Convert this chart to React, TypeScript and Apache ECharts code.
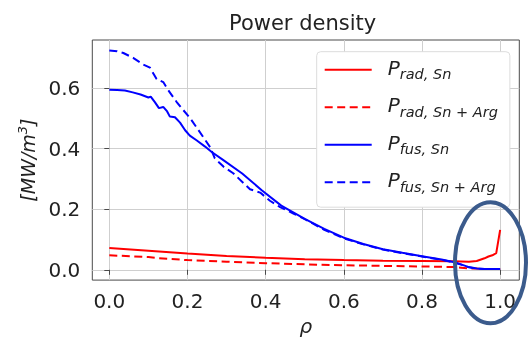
import React, { useEffect, useRef } from "react";
import * as echarts from "echarts";

// ---- data ----
const xTicks = [0, 0.2, 0.4, 0.6, 0.8, 1.0];
const yTicks = [0, 0.2, 0.4, 0.6];

const radSnRho = [0, 0.1, 0.2, 0.3, 0.4, 0.5, 0.6, 0.7, 0.8, 0.88, 0.92, 0.94, 0.96, 0.97, 0.98, 0.99, 1.0];
const radSnVal = [0.072, 0.063, 0.054, 0.046, 0.04, 0.035, 0.032, 0.03, 0.029, 0.028, 0.027, 0.029, 0.038, 0.044, 0.048, 0.055, 0.132];

const radArgRho = [0, 0.1, 0.12, 0.2, 0.3, 0.4, 0.5, 0.6, 0.7, 0.8, 0.88, 0.9, 0.92, 0.94, 0.96, 0.98, 1.0];
const radArgVal = [0.048, 0.042, 0.039, 0.032, 0.027, 0.022, 0.018, 0.015, 0.013, 0.011, 0.009, 0.007, 0.005, 0.004, 0.003, 0.003, 0.003];

const fusSnRho = [0, 0.02, 0.04, 0.06, 0.08, 0.1, 0.106, 0.117, 0.127, 0.138, 0.148, 0.155, 0.168, 0.181, 0.194, 0.206, 0.224, 0.245, 0.262, 0.29, 0.34, 0.39, 0.44, 0.5, 0.55, 0.6, 0.65, 0.7, 0.75, 0.8, 0.85, 0.88, 0.9, 0.92, 0.94, 0.96, 0.98, 1.0];
const fusSnVal = [0.595, 0.594, 0.592, 0.586, 0.579, 0.569, 0.572, 0.553, 0.534, 0.538, 0.523, 0.506, 0.504, 0.486, 0.461, 0.443, 0.427, 0.407, 0.389, 0.364, 0.318, 0.263, 0.212, 0.168, 0.135, 0.106, 0.085, 0.068, 0.056, 0.045, 0.034, 0.026, 0.018, 0.009, 0.004, 0.003, 0.003, 0.003];

const fusArgRho = [0, 0.02, 0.036, 0.061, 0.087, 0.104, 0.121, 0.138, 0.151, 0.172, 0.189, 0.206, 0.224, 0.241, 0.258, 0.27, 0.292, 0.317, 0.343, 0.36, 0.386, 0.411, 0.437, 0.471, 0.505, 0.55, 0.6, 0.65, 0.7, 0.75, 0.8, 0.85, 0.88, 0.9, 0.92, 0.94, 0.96, 0.98, 1.0];
const fusArgVal = [0.724, 0.722, 0.716, 0.7, 0.678, 0.668, 0.63, 0.62, 0.593, 0.555, 0.528, 0.502, 0.469, 0.437, 0.405, 0.368, 0.341, 0.319, 0.287, 0.266, 0.255, 0.228, 0.207, 0.186, 0.164, 0.132, 0.104, 0.084, 0.067, 0.055, 0.044, 0.033, 0.025, 0.017, 0.008, 0.004, 0.003, 0.003, 0.003];

const seriesNames = ["P_rad,Sn", "P_rad,Sn+Arg", "P_fus,Sn", "P_fus,Sn+Arg"];
const legendSubs = ["rad, Sn", "rad, Sn + Arg", "fus, Sn", "fus, Sn + Arg"];

const FONT = "DejaVu Sans";
const TXT = "#222";

const pairs = (xs: number[], ys: number[]) => xs.map((x, i) => [x, ys[i]]);

export default function App() {
  const ref = useRef<HTMLDivElement>(null);
  useEffect(() => {
    if (!ref.current) return;
    const chart = echarts.init(ref.current, undefined, { renderer: "svg" });
    const dash = [8, 4.5];
    const mk = (name: string, data: number[][], color: string, dashed: boolean, z: number) => ({
      name,
      type: "line",
      data,
      symbol: "none",
      showSymbol: false,
      legendIcon: "none",
      z,
      lineStyle: { color, width: 2, type: dashed ? dash : "solid" },
      itemStyle: { color },
      emphasis: { disabled: true },
    });
    chart.setOption({
      animation: false,
      title: {
        text: "Power density",
        left: 229,
        top: 12,
        padding: 0,
        textStyle: { fontFamily: FONT, fontSize: 21, fontWeight: "normal", color: TXT },
      },
      grid: {
        left: 92.3,
        right: 529 - 519.3,
        top: 40,
        bottom: 341 - 286.7,
        show: true,
        borderColor: "#4a4a4a",
        borderWidth: 1,
        backgroundColor: "transparent",
      },
      legend: {
        orient: "vertical",
        left: 316.7,
        top: 51.7,
        padding: [6, 12, 13, 7],
        itemWidth: 47,
        itemHeight: 14,
        itemGap: 13.5,
        backgroundColor: "#fff",
        borderColor: "#dcdcdc",
        borderWidth: 1,
        borderRadius: 4,
        selectedMode: false,
        itemStyle: { opacity: 0 },
        data: seriesNames,
        formatter: (name: string) => {
          const i = seriesNames.indexOf(name);
          return "{p|P}{s|" + legendSubs[i] + "}";
        },
        textStyle: {
          rich: {
            p: { fontFamily: FONT, fontStyle: "italic", fontSize: 20, lineHeight: 24, verticalAlign: "top", padding: [0, 0, 0, 11], color: TXT },
            s: { fontFamily: FONT, fontStyle: "italic", fontSize: 14.5, lineHeight: 14, verticalAlign: "bottom", color: TXT },
          },
        },
      },
      xAxis: {
        type: "value",
        min: -0.0435,
        max: 1.049,
        name: "ρ",
        nameLocation: "middle",
        nameGap: 33,
        nameTextStyle: { fontFamily: FONT, fontStyle: "italic", fontSize: 20, color: TXT },
        axisLine: { show: false },
        axisTick: { show: true, length: 5, lineStyle: { color: "#4a4a4a" }, customValues: xTicks },
        axisLabel: {
          customValues: xTicks,
          formatter: (v: number) => v.toFixed(1),
          fontFamily: FONT,
          fontSize: 20,
          color: TXT,
          margin: 11,
        },
        splitLine: { show: true, lineStyle: { color: "#cfcfcf", width: 1 } },
      },
      yAxis: {
        type: "value",
        min: -0.034,
        max: 0.759,
        name: "{a|[MW/m}{b|3}{a|]}",
        nameLocation: "middle",
        nameRotate: 90,
        nameGap: 54,
        nameTextStyle: {
          rich: {
            a: { fontFamily: FONT, fontStyle: "italic", fontSize: 19, color: TXT, lineHeight: 22, verticalAlign: "bottom" },
            b: { fontFamily: FONT, fontStyle: "italic", fontSize: 13, color: TXT, lineHeight: 22, verticalAlign: "top" },
          },
        },
        axisLine: { show: false },
        axisTick: { show: true, length: 5, lineStyle: { color: "#4a4a4a" }, customValues: yTicks },
        axisLabel: {
          customValues: yTicks,
          formatter: (v: number) => v.toFixed(1),
          fontFamily: FONT,
          fontSize: 20,
          color: TXT,
          margin: 12,
        },
        splitLine: { show: true, lineStyle: { color: "#cfcfcf", width: 1 } },
      },
      series: [
        mk(seriesNames[0], pairs(radSnRho, radSnVal), "#ff0000", false, 2),
        mk(seriesNames[1], pairs(radArgRho, radArgVal), "#ff0000", true, 3),
        mk(seriesNames[2], pairs(fusSnRho, fusSnVal), "#0000ff", false, 4),
        mk(seriesNames[3], pairs(fusArgRho, fusArgVal), "#0000ff", true, 5),
      ],
      graphic: [
        {
          type: "ellipse",
          z: 100,
          shape: { cx: 490.5, cy: 262.8, rx: 35.5, ry: 60.5 },
          style: { fill: "transparent", stroke: "#3b5b8c", lineWidth: 4 },
        },
      ],
    });
    return () => chart.dispose();
  }, []);
  return <div ref={ref} style={{ position: "fixed", left: 0, top: 0, width: 529, height: 341 }} />;
}
